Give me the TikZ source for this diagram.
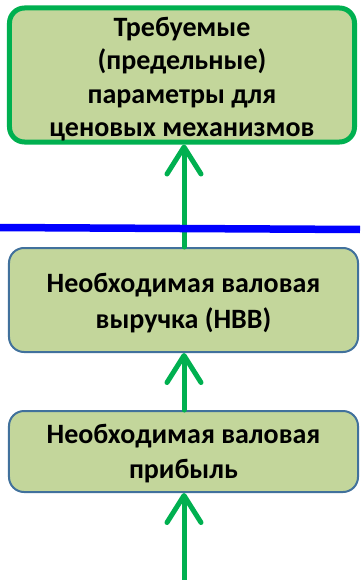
\documentclass[tikz,border=0pt]{standalone}
\usepackage{fontspec}
\setmainfont{Carlito}
\usetikzlibrary{arrows.meta}
\definecolor{boxfill}{RGB}{195,214,155}
\definecolor{grn}{RGB}{0,176,80}
\definecolor{edgeblue}{RGB}{65,113,156}
\newcommand{\boxtext}[2]{\raisebox{#1}[\height][\depth]{\begin{tabular}{@{}c@{}}#2\end{tabular}}}
\tikzset{
  basebox/.style={rectangle, rounded corners=15bp, fill=boxfill, align=center,
    font=\fontsize{28bp}{34bp}\selectfont\bfseries, inner sep=0pt},
  topbox/.style={basebox, draw=grn, line width=5bp},
  lowbox/.style={basebox, draw=edgeblue, line width=2bp},
  conn/.style={draw=grn, line width=5bp, line cap=round,
    -{Straight Barb[length=27bp,width=34bp,line cap=round,line join=round]}}
}
\begin{document}
\begin{tikzpicture}[x=1bp,y=-1bp]
\useasboundingbox (0,0) rectangle (360,580);
\node[topbox, minimum width=345bp, minimum height=131bp,
  font=\fontsize{28bp}{33.5bp}\selectfont\bfseries] (req) at (182,75)
  {\boxtext{-5bp}{Требуемые\\(предельные)\\параметры для\\ценовых механизмов}};
\node[lowbox, minimum width=349bp, minimum height=104bp,
  font=\fontsize{28bp}{36.5bp}\selectfont\bfseries] (nvv) at (183.5,300)
  {\boxtext{-3bp}{Необходимая валовая\\выручка (НВВ)}};
\node[lowbox, minimum width=349bp, minimum height=81bp,
  font=\fontsize{28bp}{35bp}\selectfont\bfseries] (nvp) at (183.5,451.5)
  {\boxtext{-2.5bp}{Необходимая валовая\\прибыль}};
\coordinate (src) at (184,585);
\draw[conn] (nvv.north -| 184,0) -- (req.south -| 184,0);
\draw[blue, line width=7.5bp] (0,227.5) -- (360,229.5);
\draw[conn] (nvp.north -| 184,0) -- (nvv.south -| 184,0);
\draw[conn] (src) -- (nvp.south -| 184,0);
\end{tikzpicture}
\end{document}
